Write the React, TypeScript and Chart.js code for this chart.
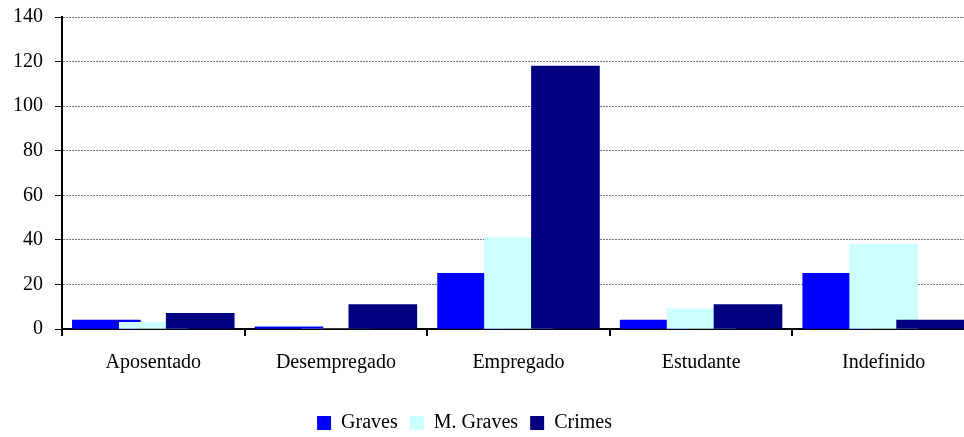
import React, { useEffect, useRef } from "react";
import { Chart, registerables } from "chart.js";

Chart.register(...registerables);

const categories = ["Aposentado", "Desempregado", "Empregado", "Estudante", "Indefinido"];
const graves = [4, 1, 25, 4, 25];
const mGraves = [3, 0, 41, 9, 38];
const crimes = [7, 11, 118, 11, 4];
const seriesNames = ["Graves", "M. Graves", "Crimes"];
const seriesColors = ["#0000FF", "#CCFFFF", "#000080"];
const yTicks = [0, 20, 40, 60, 80, 100, 120, 140];

const FONT = "'Liberation Serif', 'Times New Roman', serif";
const SHIFT = 0.257;
const CANVAS_W = 980;
const CANVAS_H = 437;

export default function App() {
  const ref = useRef<HTMLCanvasElement | null>(null);

  useEffect(() => {
    document.body.style.margin = "0";
    const canvas = ref.current;
    if (!canvas) return;
    const seriesValues = [graves, mGraves, crimes];
    const offsets = [-SHIFT, 0, SHIFT];
    const datasets = seriesValues.map((vals, s) => ({
      label: seriesNames[s],
      data: vals.map((v, i) => ({ x: i + offsets[s], y: v })),
      backgroundColor: seriesColors[s],
      borderWidth: 0,
      grouped: false,
      barThickness: 68,
      order: 3 - s,
    }));

    const shiftLegend = {
      id: "shiftLegend",
      afterLayout(chart: any) {
        const lg = chart.legend;
        if (lg) {
          lg.left -= 23;
          lg.right -= 23;
          lg.top += 10;
          lg.bottom += 10;
        }
      },
    };

    const chart = new Chart(canvas, {
      type: "bar",
      data: { datasets: datasets as any },
      plugins: [shiftLegend],
      options: {
        animation: false,
        responsive: false,
        maintainAspectRatio: false,
        layout: { padding: { left: 0, right: 5, top: 17, bottom: 4 } },
        plugins: {
          tooltip: { enabled: false },
          legend: {
            position: "bottom",
            labels: {
              boxWidth: 14,
              boxHeight: 14,
              padding: 12,
              color: "#000",
              font: { family: FONT, size: 20 },
              sort: (a: any, b: any) => a.datasetIndex - b.datasetIndex,
            },
          },
        },
        scales: {
          x: {
            type: "linear",
            min: -0.5,
            max: 4.5,
            offset: false,
            afterBuildTicks: (scale: any) => {
              const t: any[] = [];
              for (let i = 0; i <= categories.length * 2; i++) t.push({ value: -0.5 + i * 0.5 });
              scale.ticks = t;
            },
            afterFit: (scale: any) => {
              scale.height = 62;
              scale.paddingLeft = 0;
              scale.paddingRight = 0;
            },
            border: { display: true, color: "#000", width: 2 },
            grid: {
              offset: false,
              drawOnChartArea: false,
              drawTicks: true,
              tickLength: 7,
              lineWidth: 2,
              color: (ctx: any) =>
                ctx.tick && Math.abs(ctx.tick.value % 1) < 1e-6 ? "rgba(0,0,0,0)" : "#000",
            },
            ticks: {
              autoSkip: false,
              maxRotation: 0,
              padding: 15,
              color: "#000",
              font: { family: FONT, size: 20 },
              callback: (v: any) => {
                const n = Number(v);
                return Math.abs(n - Math.round(n)) < 1e-6 ? categories[Math.round(n)] ?? "" : "";
              },
            },
          },
          y: {
            min: 0,
            max: 140,
            afterBuildTicks: (scale: any) => {
              scale.ticks = yTicks.map((v) => ({ value: v }));
            },
            afterFit: (scale: any) => {
              scale.width = 62;
              scale.paddingTop = 0;
              scale.paddingBottom = 0;
            },
            border: { display: true, color: "#000", width: 2, dash: [2, 1] },
            grid: {
              drawOnChartArea: true,
              drawTicks: true,
              tickLength: 7,
              color: (ctx: any) => (ctx.tick && ctx.tick.value === 0 ? "rgba(0,0,0,0)" : "#777"),
              tickColor: "#000",
              lineWidth: 1,
            },
            ticks: {
              padding: 12,
              color: "#000",
              font: { family: FONT, size: 20 },
            },
          },
        },
      } as any,
    });
    return () => chart.destroy();
  }, []);

  return (
    <div style={{ position: "absolute", left: 0, top: 0, width: 964, height: 437, overflow: "hidden" }}>
      <canvas ref={ref} width={CANVAS_W} height={CANVAS_H} style={{ width: CANVAS_W, height: CANVAS_H }} />
    </div>
  );
}
